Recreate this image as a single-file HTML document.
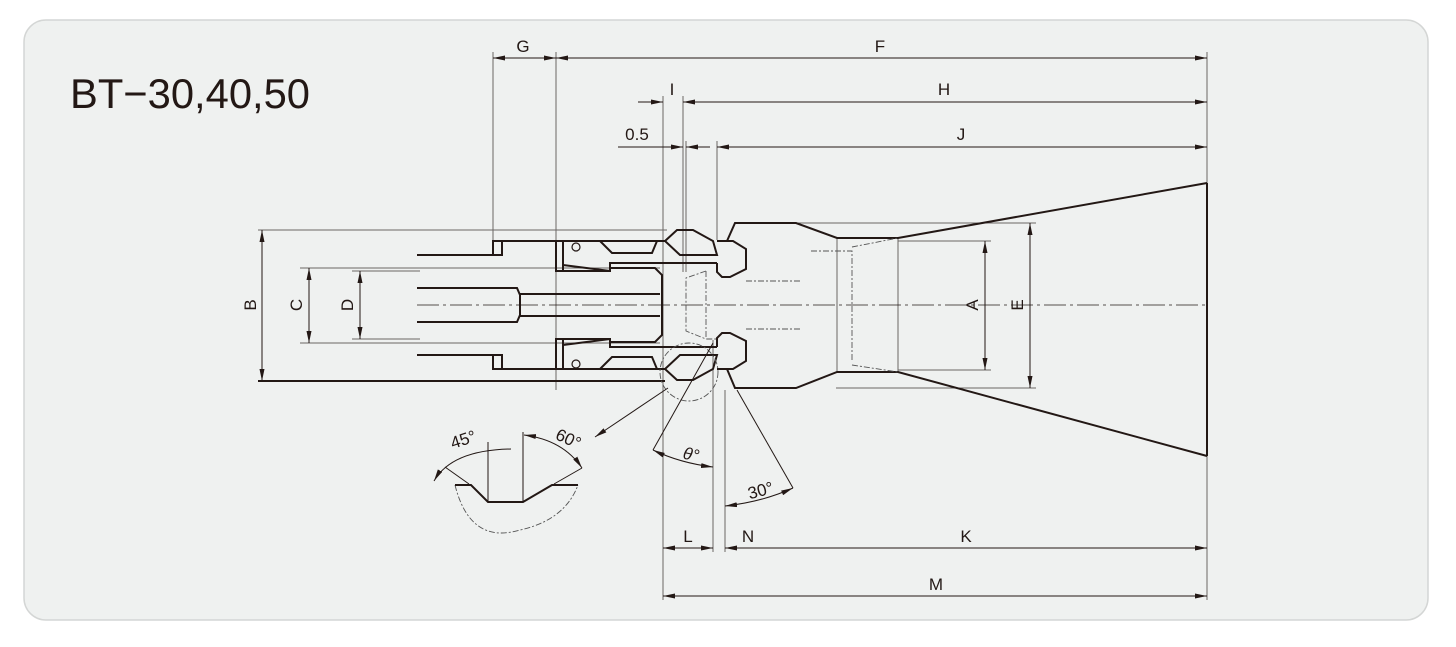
<!DOCTYPE html>
<html><head><meta charset="utf-8"><style>
html,body{margin:0;padding:0;background:#fff;}
svg{display:block;}
text{font-family:"Liberation Sans",Arial,sans-serif;fill:#231815;}
</style></head><body>
<svg width="1456" height="647" viewBox="0 0 1456 647" xmlns="http://www.w3.org/2000/svg">
<defs>
<marker id="a" viewBox="0 0 12 5" refX="12" refY="2.5" markerWidth="12" markerHeight="5" markerUnits="userSpaceOnUse" orient="auto-start-reverse"><path d="M0,0 L12,2.5 L0,5 Z" fill="#231815"/></marker>
</defs>
<rect x="24" y="20" width="1404" height="600" rx="22" fill="#eff1f0" stroke="#d4d6d5" stroke-width="1.5"/>
<text x="70" y="108" font-size="42" textLength="240" lengthAdjust="spacingAndGlyphs">BT−30,40,50</text>

<g stroke="#6b6665" stroke-width="1" fill="none">
<line x1="493" y1="52" x2="493" y2="241"/>
<line x1="556" y1="52" x2="556" y2="390"/>
<line x1="1207" y1="52" x2="1207" y2="600"/>
<line x1="663" y1="96" x2="663" y2="600"/>
<line x1="683" y1="96" x2="683" y2="272"/>
<line x1="686" y1="141" x2="686" y2="272"/>
<line x1="717" y1="141" x2="717" y2="240"/>
<line x1="713" y1="340" x2="713" y2="552"/>
<line x1="725" y1="390" x2="725" y2="552"/>
<line x1="258" y1="230" x2="667" y2="230"/>
<line x1="300" y1="268" x2="660" y2="268"/>
<line x1="300" y1="343" x2="660" y2="343"/>
<line x1="352" y1="271" x2="420" y2="271"/>
<line x1="352" y1="339" x2="420" y2="339"/>
<line x1="796" y1="223" x2="1036" y2="223"/>
<line x1="836" y1="388" x2="1036" y2="388"/>
<line x1="898" y1="241" x2="991" y2="241"/>
<line x1="898" y1="370" x2="991" y2="370"/>
<line x1="898" y1="238" x2="898" y2="373"/>
<line x1="837" y1="238" x2="837" y2="373"/>
</g>

<g stroke="#231815" stroke-width="1" fill="none">
<line x1="493" y1="58" x2="556" y2="58" marker-start="url(#a)" marker-end="url(#a)"/>
<line x1="556" y1="58" x2="1207" y2="58" marker-start="url(#a)" marker-end="url(#a)"/>
<line x1="638" y1="102" x2="663" y2="102" marker-end="url(#a)"/>
<line x1="683" y1="102" x2="1207" y2="102" marker-start="url(#a)" marker-end="url(#a)"/>
<line x1="618" y1="147" x2="683" y2="147" marker-end="url(#a)"/>
<line x1="686" y1="147" x2="710" y2="147" marker-start="url(#a)"/>
<line x1="717" y1="147" x2="1207" y2="147" marker-start="url(#a)" marker-end="url(#a)"/>
<line x1="663" y1="548" x2="713" y2="548" marker-start="url(#a)" marker-end="url(#a)"/>
<line x1="725" y1="548" x2="1207" y2="548" marker-start="url(#a)" marker-end="url(#a)"/>
<line x1="663" y1="596" x2="1207" y2="596" marker-start="url(#a)" marker-end="url(#a)"/>
<line x1="262" y1="230" x2="262" y2="381" marker-start="url(#a)" marker-end="url(#a)"/>
<line x1="309" y1="268" x2="309" y2="343" marker-start="url(#a)" marker-end="url(#a)"/>
<line x1="360" y1="271" x2="360" y2="339" marker-start="url(#a)" marker-end="url(#a)"/>
<line x1="985" y1="241" x2="985" y2="370" marker-start="url(#a)" marker-end="url(#a)"/>
<line x1="1030" y1="223" x2="1030" y2="388" marker-start="url(#a)" marker-end="url(#a)"/>
</g>

<line x1="417" y1="305" x2="1207" y2="305" stroke="#231815" stroke-width="0.8" stroke-dasharray="22,4,3,4"/>

<g stroke="#231815" stroke-width="2" fill="none" stroke-linejoin="miter">
<line x1="258" y1="381" x2="665" y2="381"/>
<line x1="1207" y1="183" x2="1207" y2="456"/>
<polyline points="417,255 493,255 493,241 665,241"/>
<polyline points="417,355 493,355 493,369 665,369"/>
<rect x="493" y="241" width="9" height="14"/>
<rect x="493" y="355" width="9" height="14"/>
<polyline points="556,241 556,271 563,271 563,241"/>
<polyline points="556,369 556,339 563,339 563,369"/>
<polyline points="563,265 610,271"/>
<polyline points="563,345 610,339"/>
<polyline points="563,271 610,271 610,263 717,263"/>
<polyline points="563,339 610,339 610,347 717,347"/>
<polyline points="610,268 655,268 662,275 662,335 655,342 610,342"/>
<polyline points="417,288 517,288 520,295 520,315 517,322 417,322"/>
<polyline points="520,294 660,294"/><polyline points="520,316 660,316"/>
<polyline points="600,241 612,253 652,253 657,241"/>
<polyline points="600,369 612,357 652,357 657,369"/>
<circle cx="576" cy="247" r="4" stroke-width="1.2"/>
<circle cx="576" cy="364" r="4" stroke-width="1.2"/>
<polygon points="665,241 677,230 693,230 713,241 717,255 680,255"/>
<polygon points="665,369 677,380 693,380 713,369 717,355 680,355"/>
<polyline points="717,241 733,241 746,249 746,269 730,277 722,277 717,272 717,263"/>
<polyline points="717,369 733,369 746,361 746,341 730,333 722,333 717,338 717,347"/>
<polyline points="727,241 735,223 796,223 837,238 898,238 1207,183"/>
<polyline points="727,369 735,388 796,388 837,372 898,372 1207,456"/>
</g>

<g stroke="#555" stroke-width="0.9" fill="none" stroke-dasharray="6,2,2,2">
<polyline points="746,281 800,281 Q811,281 811,292 L811,360 852,360"/>
<polyline points="746,329 800,329 Q811,329 811,318"/>
<polyline points="811,251 852,251 852,360"/>
<polyline points="852,247 898,238"/><polyline points="852,365 898,372"/>
<polyline points="706,271 686,278 686,331 706,339 717,339"/>
<line x1="706" y1="271" x2="706" y2="339"/>
<circle cx="689" cy="372" r="29"/>
<path d="M455,485 Q470,545 520,530 Q565,520 578,485"/>
</g>

<g stroke="#231815" stroke-width="1" fill="none">
<line x1="668" y1="388" x2="595" y2="437" marker-end="url(#a)"/>
<line x1="713" y1="343" x2="653" y2="450"/>
<path d="M653,450 Q680,463 713,467" marker-start="url(#a)" marker-end="url(#a)"/>
<line x1="737" y1="390" x2="793" y2="488"/>
<path d="M725,506 Q762,502 793,488" marker-start="url(#a)" marker-end="url(#a)"/>
<line x1="488" y1="442" x2="488" y2="502"/>
<line x1="523" y1="432" x2="523" y2="502"/>
<line x1="445" y1="467" x2="469" y2="484"/>
<line x1="554" y1="484" x2="582" y2="468"/>
<path d="M434,481 Q452,450 511,449" marker-start="url(#a)"/>
<path d="M524,435 Q563,440 582,468" marker-start="url(#a)" marker-end="url(#a)"/>
</g>
<polyline points="455,485 471,485 488,502 523,502 552,485 578,485" stroke="#231815" stroke-width="2" fill="none"/>

<g font-size="17" text-anchor="middle">
<text x="523" y="52">G</text>
<text x="880" y="52">F</text>
<text x="672" y="95">I</text>
<text x="944" y="95">H</text>
<text x="637" y="140">0.5</text>
<text x="961" y="140">J</text>
<text x="688" y="542">L</text>
<text x="748" y="542">N</text>
<text x="966" y="542">K</text>
<text x="936" y="590">M</text>
<text x="0" y="0" transform="translate(256,305) rotate(-90)">B</text>
<text x="0" y="0" transform="translate(302,305) rotate(-90)">C</text>
<text x="0" y="0" transform="translate(353,305) rotate(-90)">D</text>
<text x="0" y="0" transform="translate(978,305) rotate(-90)">A</text>
<text x="0" y="0" transform="translate(1023,305) rotate(-90)">E</text>
<text x="0" y="0" transform="translate(465,445) rotate(-18)">45°</text>
<text x="0" y="0" transform="translate(566,444) rotate(25)">60°</text>
<text x="0" y="0" transform="translate(690,460) rotate(12)" font-style="italic">θ°</text>
<text x="0" y="0" transform="translate(762,496) rotate(-15)">30°</text>
</g>
</svg>
</body></html>
